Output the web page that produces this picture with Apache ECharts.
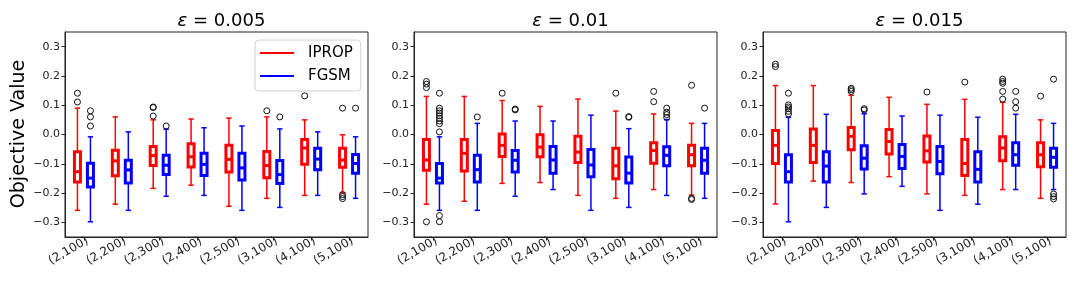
<!DOCTYPE html>
<html>
<head>
<meta charset="utf-8">
<script src="https://cdn.jsdelivr.net/npm/echarts@6/dist/echarts.min.js"></script>
<style>html,body{margin:0;padding:0;background:#fff}#c{width:1080px;height:288px}</style>
</head>
<body>
<div id="c"></div>
<script>
// ---- data ----
const categories = ['(2,100)', '(2,200)', '(2,300)', '(2,400)', '(2,500)', '(3,100)', '(4,100)', '(5,100)'];
const panelTitles = ['ε = 0.005', 'ε = 0.01', 'ε = 0.015'];
const seriesNames = ['IPROP', 'FGSM'];
const yTicks = [-0.3, -0.2, -0.1, 0.0, 0.1, 0.2, 0.3];

// [min, Q1, median, Q3, max] per category
const iprop005 = [
  [-0.259, -0.162, -0.127, -0.059, 0.090],
  [-0.238, -0.141, -0.090, -0.054, 0.060],
  [-0.184, -0.106, -0.072, -0.041, 0.050],
  [-0.173, -0.111, -0.076, -0.032, 0.053],
  [-0.245, -0.128, -0.085, -0.037, 0.056],
  [-0.218, -0.148, -0.106, -0.058, 0.060],
  [-0.208, -0.102, -0.046, -0.017, 0.050],
  [-0.199, -0.112, -0.087, -0.047, -0.001]
];
const fgsm005 = [
  [-0.298, -0.179, -0.149, -0.098, -0.008],
  [-0.259, -0.166, -0.121, -0.088, 0.009],
  [-0.211, -0.137, -0.105, -0.071, 0.018],
  [-0.208, -0.140, -0.102, -0.064, 0.023],
  [-0.259, -0.155, -0.114, -0.064, 0.029],
  [-0.249, -0.167, -0.137, -0.089, 0.019],
  [-0.208, -0.120, -0.084, -0.047, 0.009],
  [-0.218, -0.132, -0.099, -0.068, -0.008]
];
const ipropOut005 = [[0, 0.141], [0, 0.111], [2, 0.094], [2, 0.092], [2, 0.063], [5, 0.081], [6, 0.132], [7, 0.090], [7, -0.205], [7, -0.212], [7, -0.219]];
const fgsmOut005 = [[0, 0.081], [0, 0.060], [0, 0.029], [2, 0.029], [5, 0.060], [7, 0.090]];

const iprop010 = [
  [-0.238, -0.122, -0.087, -0.017, 0.130],
  [-0.228, -0.125, -0.064, -0.017, 0.130],
  [-0.167, -0.075, -0.037, 0.002, 0.116],
  [-0.164, -0.076, -0.043, -0.001, 0.096],
  [-0.208, -0.096, -0.060, -0.006, 0.121],
  [-0.218, -0.151, -0.107, -0.047, 0.080],
  [-0.188, -0.098, -0.055, -0.028, 0.070],
  [-0.207, -0.107, -0.069, -0.037, 0.038]
];
const fgsm010 = [
  [-0.259, -0.166, -0.149, -0.099, -0.008],
  [-0.259, -0.162, -0.120, -0.071, 0.038],
  [-0.211, -0.128, -0.088, -0.055, 0.046],
  [-0.188, -0.132, -0.087, -0.041, 0.046],
  [-0.259, -0.144, -0.104, -0.051, 0.066],
  [-0.249, -0.166, -0.132, -0.077, 0.020],
  [-0.208, -0.107, -0.071, -0.042, 0.051],
  [-0.218, -0.132, -0.088, -0.047, 0.038]
];
const ipropOut010 = [[0, 0.181], [0, 0.172], [0, 0.160], [0, -0.298], [2, 0.141], [5, 0.141], [6, 0.147], [6, 0.112], [7, 0.168], [7, -0.218], [7, -0.222]];
const fgsmOut010 = [[0, 0.141], [0, 0.090], [0, 0.081], [0, 0.073], [0, 0.064], [0, 0.055], [0, 0.046], [0, 0.037], [0, 0.009], [0, -0.277], [0, -0.298],
  [1, 0.060], [2, 0.087], [2, 0.084], [5, 0.061], [5, 0.059], [6, 0.090], [6, 0.076], [6, 0.068], [6, 0.058], [7, 0.090]];

const iprop015 = [
  [-0.237, -0.099, -0.037, 0.014, 0.167],
  [-0.159, -0.096, -0.037, 0.019, 0.167],
  [-0.164, -0.052, -0.006, 0.024, 0.134],
  [-0.144, -0.067, -0.024, 0.017, 0.127],
  [-0.203, -0.094, -0.056, -0.005, 0.103],
  [-0.208, -0.140, -0.099, -0.017, 0.120],
  [-0.188, -0.090, -0.046, -0.008, 0.110],
  [-0.218, -0.110, -0.069, -0.028, 0.050]
];
const fgsm015 = [
  [-0.298, -0.162, -0.127, -0.069, 0.059],
  [-0.249, -0.162, -0.108, -0.059, 0.069],
  [-0.203, -0.118, -0.081, -0.038, 0.071],
  [-0.177, -0.116, -0.075, -0.034, 0.063],
  [-0.259, -0.134, -0.092, -0.041, 0.066],
  [-0.238, -0.162, -0.119, -0.059, 0.059],
  [-0.188, -0.105, -0.069, -0.028, 0.069],
  [-0.188, -0.112, -0.078, -0.047, 0.038]
];
const ipropOut015 = [[0, 0.240], [0, 0.232], [2, 0.158], [2, 0.153], [2, 0.147], [4, 0.145], [5, 0.179], [6, 0.189], [6, 0.181], [6, 0.175], [6, 0.147], [6, 0.121], [7, 0.131]];
const fgsmOut015 = [[0, 0.141], [0, 0.101], [0, 0.094], [0, 0.088], [0, 0.079], [0, 0.070], [2, 0.088], [2, 0.084], [6, 0.147], [6, 0.112], [6, 0.090], [7, 0.189], [7, -0.203], [7, -0.212], [7, -0.220]];

const panels = [
  { boxes: [iprop005, fgsm005], outs: [ipropOut005, fgsmOut005] },
  { boxes: [iprop010, fgsm010], outs: [ipropOut010, fgsmOut010] },
  { boxes: [iprop015, fgsm015], outs: [ipropOut015, fgsmOut015] }
];

// ---- style / layout ----
const colors = ['#ff0000', '#0000ff'];
const offsets = [-6.5, 6.5];
const gridLefts = [65, 414, 763];
const gridWidth = 303, gridTop = 32, gridHeight = 205;
const axisColor = '#222';
const font = 'DejaVu Sans';

function boxRender(offset, color) {
  return function (params, api) {
    const cat = api.value(0);
    const cx = api.coord([cat, api.value(3)])[0] + offset;
    const y = i => api.coord([cat, api.value(i)])[1];
    const yMin = y(1), yQ1 = y(2), yMed = y(3), yQ3 = y(4), yMax = y(5);
    const hw = 3, cap = 2.7;
    const thin = { stroke: color, lineWidth: 1.5 };
    const thick = { stroke: color, lineWidth: 3, fill: 'none' };
    return {
      type: 'group',
      children: [
        { type: 'line', shape: { x1: cx, y1: yQ3, x2: cx, y2: yMax }, style: thin },
        { type: 'line', shape: { x1: cx, y1: yQ1, x2: cx, y2: yMin }, style: thin },
        { type: 'line', shape: { x1: cx - cap, y1: yMax, x2: cx + cap, y2: yMax }, style: thin },
        { type: 'line', shape: { x1: cx - cap, y1: yMin, x2: cx + cap, y2: yMin }, style: thin },
        { type: 'rect', shape: { x: cx - hw, y: yQ3, width: hw * 2, height: yQ1 - yQ3 }, style: thick },
        { type: 'line', shape: { x1: cx - hw, y1: yMed, x2: cx + hw, y2: yMed }, style: { stroke: color, lineWidth: 3 } }
      ]
    };
  };
}
function outRender(offset) {
  return function (params, api) {
    const p = api.coord([api.value(0), api.value(1)]);
    return { type: 'circle', shape: { cx: p[0] + offset, cy: p[1], r: 3 }, style: { stroke: '#111', lineWidth: 1, fill: 'none' } };
  };
}

const grids = [], xAxes = [], yAxes = [], series = [], titles = [];
panels.forEach((pn, k) => {
  grids.push({ left: gridLefts[k], top: gridTop, width: gridWidth, height: gridHeight, show: true, borderColor: axisColor, borderWidth: 1, backgroundColor: 'transparent' });
  xAxes.push({
    type: 'category', gridIndex: k, data: categories, boundaryGap: true,
    axisLine: { show: true, onZero: false, lineStyle: { color: axisColor, width: 1 } },
    axisTick: { show: true, alignWithLabel: true, length: 3.5, lineStyle: { color: axisColor } },
    axisLabel: { rotate: 30, margin: 5, color: '#222', fontFamily: font, fontSize: 12, interval: 0, padding: [0, -4, 0, 0] },
    splitLine: { show: false }
  });
  yAxes.push({
    type: 'value', gridIndex: k, min: -0.35, max: 0.35, splitNumber: 7,
    axisLine: { show: true, lineStyle: { color: axisColor, width: 1 } },
    axisTick: { show: true, length: 3.5, lineStyle: { color: axisColor } },
    axisLabel: {
      showMinLabel: false, showMaxLabel: false, margin: 5, color: '#222', fontFamily: font, fontSize: 11,
      formatter: v => { const r = Math.round(v * 10) / 10; if (!yTicks.some(t => Math.abs(t - r) < 1e-9) || Math.abs(v - r) > 1e-6) return ''; return r < 0 ? '\u2212' + Math.abs(r).toFixed(1) : r.toFixed(1); }
    },
    splitLine: { show: false }
  });
  titles.push({
    text: panelTitles[k].replace('ε', '{e|ε}'), left: gridLefts[k] + gridWidth / 2, top: 7, textAlign: 'center',
    textStyle: { fontFamily: font, fontSize: 18, fontWeight: 'normal', color: '#000', rich: { e: { fontFamily: font, fontSize: 18, fontStyle: 'italic', color: '#000' } } }
  });
  pn.boxes.forEach((arr, s) => {
    series.push({
      type: 'custom', name: seriesNames[s], xAxisIndex: k, yAxisIndex: k,
      itemStyle: { color: colors[s] },
      renderItem: boxRender(offsets[s], colors[s]),
      encode: { x: 0, y: [1, 2, 3, 4, 5] },
      data: arr.map((b, i) => [i].concat(b)),
      z: 3
    });
  });
  pn.outs.forEach((arr, s) => {
    series.push({
      type: 'custom', name: seriesNames[s] + ' outliers', xAxisIndex: k, yAxisIndex: k,
      renderItem: outRender(offsets[s]),
      encode: { x: 0, y: 1 },
      data: arr,
      z: 4
    });
  });
});

const chart = echarts.init(document.getElementById('c'), null, { renderer: 'canvas' });
chart.setOption({
  animation: false,
  backgroundColor: '#fff',
  title: titles,
  grid: grids,
  xAxis: xAxes,
  yAxis: yAxes,
  legend: {
    data: seriesNames, orient: 'vertical', left: 255, top: 40,
    icon: 'rect', itemWidth: 34, itemHeight: 2, itemGap: 5,
    padding: [4, 8, 6, 5],
    backgroundColor: '#fff', borderColor: '#d0d0d0', borderWidth: 1, borderRadius: 4,
    textStyle: { fontFamily: font, fontSize: 15, color: '#000', lineHeight: 18, padding: [0, 0, 0, 9] },
    selectedMode: false
  },
  graphic: [{
    type: 'text', x: 19, y: 134, rotation: Math.PI / 2,
    style: { text: 'Objective Value', fontFamily: font, fontSize: 19, fill: '#000', align: 'center', verticalAlign: 'middle' }
  }],
  series: series
});
</script>
</body>
</html>
